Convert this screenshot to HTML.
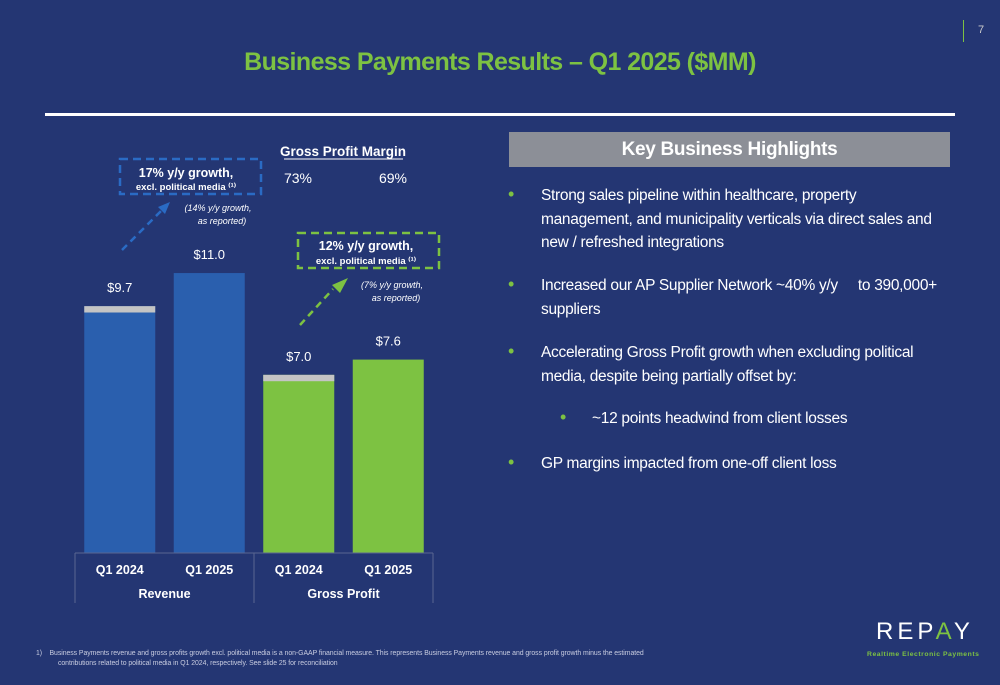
<!DOCTYPE html>
<html><head><meta charset="utf-8">
<style>
body{margin:0;width:1000px;height:685px;background:#243673;overflow:hidden;position:relative;font-family:"Liberation Sans",sans-serif;color:#fff}
.abs{position:absolute;white-space:nowrap}
.bl{font-size:15.5px;letter-spacing:-0.3px;line-height:23.5px}
.dot{color:#7dc242;font-size:18px}
</style></head><body>
<div class="abs" style="left:978px;top:24px;font-size:11px;color:#ccc">7</div>
<div class="abs" style="left:963px;top:20px;width:1px;height:22px;background:#7dc242"></div>
<div class="abs" style="left:0;width:1000px;text-align:center;top:48px;font-size:25px;font-weight:bold;color:#7dc242;letter-spacing:-0.6px">Business Payments Results – Q1 2025 ($MM)</div>
<div class="abs" style="left:45px;top:113px;width:910px;height:3px;background:#fff"></div>

<svg class="abs" style="left:0;top:0" width="500" height="685" id="chart"></svg>

<div class="abs" style="left:509px;top:132px;width:441px;height:35px;background:#8c8f97;text-align:center;line-height:35px;font-size:19px;font-weight:bold;letter-spacing:-0.3px">Key Business Highlights</div>
<div>
<div class="abs dot" style="left:508px;top:184px">•</div>
<div class="abs bl" style="left:541px;top:184px">Strong sales pipeline within healthcare, property<br>management, and municipality verticals via direct sales and<br>new / refreshed integrations</div>
<div class="abs dot" style="left:508px;top:274px">•</div>
<div class="abs bl" style="left:541px;top:274px">Increased our AP Supplier Network ~40% y/y &nbsp;&nbsp;&nbsp;&nbsp;to 390,000+<br>suppliers</div>
<div class="abs dot" style="left:508px;top:341px">•</div>
<div class="abs bl" style="left:541px;top:341px">Accelerating Gross Profit growth when excluding political<br>media, despite being partially offset by:</div>
<div class="abs dot" style="left:560px;top:407px">•</div>
<div class="abs bl" style="left:592px;top:407px">~12 points headwind from client losses</div>
<div class="abs dot" style="left:508px;top:452px">•</div>
<div class="abs bl" style="left:541px;top:452px">GP margins impacted from one-off client loss</div>
</div>

<div class="abs" style="left:36px;top:649px;font-size:6.9px;line-height:10px;color:#c8cce0;letter-spacing:-0.05px">1)&nbsp;&nbsp;&nbsp; Business Payments revenue and gross profits growth excl. political media is a non-GAAP financial measure. This represents Business Payments revenue and gross profit growth minus the estimated<br><span style="padding-left:22px">contributions related to political media in Q1 2024, respectively. See slide 25 for reconciliation</span></div>

<div class="abs" style="left:876px;top:618px;font-size:24px;letter-spacing:4px;color:#fff">REP<span style="color:#7dc242">A</span>Y</div>
<div class="abs" style="left:867px;top:651px;font-size:6.8px;font-weight:bold;letter-spacing:0.55px;color:#7dc242">Realtime Electronic Payments</div>

<script>
const categories=["Q1 2024","Q1 2025","Q1 2024","Q1 2025"];
const groups=["Revenue","Gross Profit"];
const totals=[9.7,11.0,7.0,7.6];
const political=[0.25,0,0.25,0];
const valueLabels=["$9.7","$11.0","$7.0","$7.6"];
const margins=["73%","69%"];

const svg=document.getElementById('chart');
const NS="http://www.w3.org/2000/svg";
const baseY=553, pxPerUnit=25.45, left=75, slot=89.5, barW=71;
const y=v=>baseY-v*pxPerUnit;
const xc=i=>left+slot*(i+0.5);
function mk(tag,attrs,text){const e=document.createElementNS(NS,tag);for(const k in attrs)e.setAttribute(k,attrs[k]);if(text!==undefined)e.textContent=text;svg.appendChild(e);return e;}
const colors=["#2a5fae","#2a5fae","#7dc242","#7dc242"];
totals.forEach((t,i)=>{
  const r=mk('rect',{x:xc(i)-barW/2,y:y(t),width:barW,height:t*pxPerUnit,fill:colors[i]});
  
  
  if(political[i]>0){
    const g=mk('rect',{x:xc(i)-barW/2,y:y(t),width:barW,height:political[i]*pxPerUnit,fill:"#c4c4c4"});
    
    
  }
  const l=mk('text',{x:xc(i),y:y(t)-14,'text-anchor':'middle','font-size':13,fill:'#fff'},valueLabels[i]);
  
  
  const c=mk('text',{x:xc(i),y:574,'text-anchor':'middle','font-size':12.5,'font-weight':'bold',fill:'#fff'},categories[i]);
  
  
});
mk('line',{x1:left,y1:baseY,x2:left+slot*4,y2:baseY,stroke:'#5a6690','stroke-width':1});
[0,2,4].forEach(k=>mk('line',{x1:left+slot*k,y1:baseY,x2:left+slot*k,y2:603,stroke:'#5a6690','stroke-width':1}));
groups.forEach((g,k)=>{
  const t=mk('text',{x:left+slot*(2*k+1),y:598,'text-anchor':'middle','font-size':12.5,'font-weight':'bold',fill:'#fff'},g);
  
  
});
const mh=mk('text',{x:343,y:156,'text-anchor':'middle','font-size':13.5,'font-weight':'bold',fill:'#fff'},"Gross Profit Margin");


mk('line',{x1:284,y1:159,x2:403,y2:159,stroke:'#fff','stroke-width':1});
margins.forEach((m,k)=>{
  const t=mk('text',{x:[298,393][k],y:183,'text-anchor':'middle','font-size':14,fill:'#fff'},m);
  
  
});
mk('rect',{x:120,y:159,width:141,height:35,fill:'none',stroke:'#2a6bc4','stroke-width':2.5,'stroke-dasharray':'8 5'});
mk('text',{x:186,y:177,'text-anchor':'middle','font-size':12.5,'font-weight':'bold',fill:'#fff'},"17% y/y growth,");
mk('text',{x:186,y:190,'text-anchor':'middle','font-size':9.5,'font-weight':'bold',fill:'#fff'},"excl. political media ⁽¹⁾");
mk('text',{x:218,y:211,'text-anchor':'middle','font-size':9,'font-style':'italic',fill:'#fff'},"(14% y/y growth,");
mk('text',{x:222,y:224,'text-anchor':'middle','font-size':9,'font-style':'italic',fill:'#fff'},"as reported)");
mk('line',{x1:122,y1:250,x2:163,y2:209,stroke:'#2a6bc4','stroke-width':2.5,'stroke-dasharray':'7 5'});
mk('polygon',{points:'170,202 158,207 165,214',fill:'#2a6bc4'});
mk('rect',{x:298,y:233,width:141,height:35,fill:'none',stroke:'#7dc242','stroke-width':2.5,'stroke-dasharray':'8 5'});
mk('text',{x:366,y:250,'text-anchor':'middle','font-size':12.5,'font-weight':'bold',fill:'#fff'},"12% y/y growth,");
mk('text',{x:366,y:264,'text-anchor':'middle','font-size':9.5,'font-weight':'bold',fill:'#fff'},"excl. political media ⁽¹⁾");
mk('text',{x:392,y:288,'text-anchor':'middle','font-size':9,'font-style':'italic',fill:'#fff'},"(7% y/y growth,");
mk('text',{x:396,y:301,'text-anchor':'middle','font-size':9,'font-style':'italic',fill:'#fff'},"as reported)");
mk('line',{x1:300,y1:325,x2:333,y2:289,stroke:'#7dc242','stroke-width':2.5,'stroke-dasharray':'7 5'});
mk('polygon',{points:'348,278 332,285 340,293',fill:'#7dc242'});
</script>
</body></html>
